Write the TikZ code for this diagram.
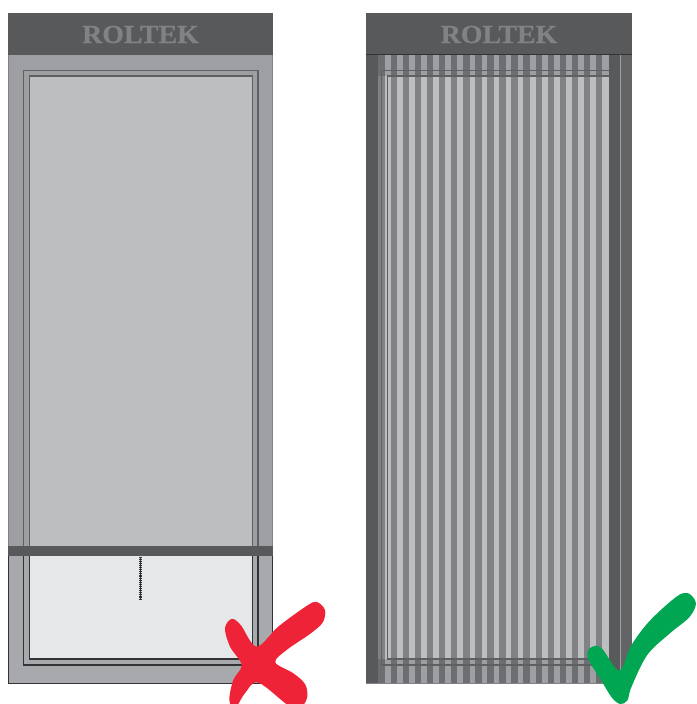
\documentclass[tikz,border=0pt]{standalone}
\usepackage{fontspec}
\newfontfamily\logofont[FakeBold=0.6]{Liberation Serif Bold}
\definecolor{headc}{HTML}{58595B}
\definecolor{logoc}{HTML}{808285}
\definecolor{frameA}{HTML}{9D9FA2}
\definecolor{frameB}{HTML}{A7A9AC}
\definecolor{glassA}{HTML}{BCBEC0}
\definecolor{glassB}{HTML}{E6E7E8}
\definecolor{lineA}{HTML}{5F6062}
\definecolor{lineB}{HTML}{333335}
\definecolor{stripeD}{HTML}{808285}
\definecolor{stripeDT}{HTML}{6D6E71}
\definecolor{sideL}{HTML}{636466}
\definecolor{crossc}{HTML}{EF2337}
\definecolor{tickc}{HTML}{00A651}
\tikzset{
  logo/.style={text=logoc,font=\fontsize{26}{26}\logofont,inner sep=0pt,anchor=base,xscale=1.07},
  frameline/.style={line width=1.5pt},
}
\begin{document}
\begin{tikzpicture}[x=1pt,y=-1pt]
\useasboundingbox (0,0) rectangle (696,704);
\clip (0,0) rectangle (696,704);
% ---- left blind
\fill[frameB] (8,546) rectangle (273,683);
\draw[lineB,line width=1pt] (8.5,556) -- (8.5,683) -- (272.5,683) -- (272.5,556);
\fill[glassB] (29,556) rectangle (253,659);
\draw[lineB,frameline] (23.7,556) -- (23.7,665) -- (258,665) -- (258,556);
\draw[lineB,frameline] (29.3,556) -- (29.3,659) -- (252.7,659) -- (252.7,556);
\fill[frameA] (8,55) rectangle (273,546);
\draw[logoc,line width=.8pt] (8.4,55) -- (8.4,546) (272.6,55) -- (272.6,546);
\fill[glassA] (29,76) rectangle (253,546);
\draw[lineA,frameline] (23.7,546) -- (23.7,70.3) -- (258,70.3) -- (258,546);
\draw[lineA,frameline] (29.3,546) -- (29.3,76) -- (252.7,76) -- (252.7,546);
\fill[headc] (8,546) rectangle (273,556);
\fill[headc] (8,13) rectangle (273,55);
\node[logo] (logoL) at (140.5,43) {ROLTEK};
\draw[lineB,line width=.8pt] (140.5,556.5) -- (140.5,599);
\draw[lineB,line width=2.3pt,dash pattern=on 1.1pt off 1pt] (140.5,556.5) -- (140.5,599);
% ---- right blind
\fill[stripeDT] (378,54) rectangle (609,683);
\fill[stripeD] (378,76) rectangle (609,659);
\foreach \k in {0,...,18}{
  \pgfmathsetmacro{\xa}{385+12.08*\k}
  \pgfmathsetmacro{\xb}{\xa+5.6}
  \fill[frameA] (\xa,54) rectangle (\xb,683);
  \fill[glassA] (\xa,76) rectangle (\xb,659);
}
\fill[frameA] (604.5,54) rectangle (609,76);
\fill[glassA] (604.5,76) rectangle (609,659);
\fill[frameA] (604.5,659) rectangle (609,683);
\fill[headc] (366,54) rectangle (378,683);
\fill[headc] (609,54) rectangle (632,683);
\fill[sideL] (620.5,54) rectangle (632,683);
\draw[frameA,line width=.8pt] (620.3,54) -- (620.3,670);
\draw[logoc,line width=.7pt] (366,683.3) -- (632,683.3);
\draw[lineA,line width=1.2pt] (609,70.3) -- (381.7,70.3) -- (381.7,665) -- (609,665);
\draw[lineA,line width=1.2pt] (609,76) -- (387.5,76) -- (387.5,659) -- (609,659);
\fill[headc] (366,13) rectangle (632,54);
\draw[lineB,line width=.7pt] (366,54) -- (632,54);
\node[logo] (logoR) at (499,43) {ROLTEK};
% ---- cross
\begin{scope}[x=.3333pt,y=-.3333pt,shift={(0,1590)}]
\fill[crossc] plot[smooth cycle,tension=.55] coordinates {
 (695,267) (722,285) (770,350) (835,290) (920,228) (950,216) (975,240) (968,278)
 (930,312) (860,360) (826,397) (880,430) (915,462) (922,500) (905,530) (870,530)
 (775,458) (735,490) (705,535) (688,510) (700,450) (725,405) (690,350) (675,295)};
\end{scope}
% ---- tick
\begin{scope}[x=.3333pt,y=-.3333pt,shift={(1080,1740)}]
\fill[tickc] plot[smooth cycle,tension=.55] coordinates {
 (705,198) (728,208) (778,272) (815,195) (870,122) (950,50) (985,40) (1008,70)
 (988,112) (930,160) (862,225) (815,320) (802,362) (780,372) (755,352) (720,295)
 (686,240) (684,212)};
\end{scope}
\end{tikzpicture}
\end{document}
